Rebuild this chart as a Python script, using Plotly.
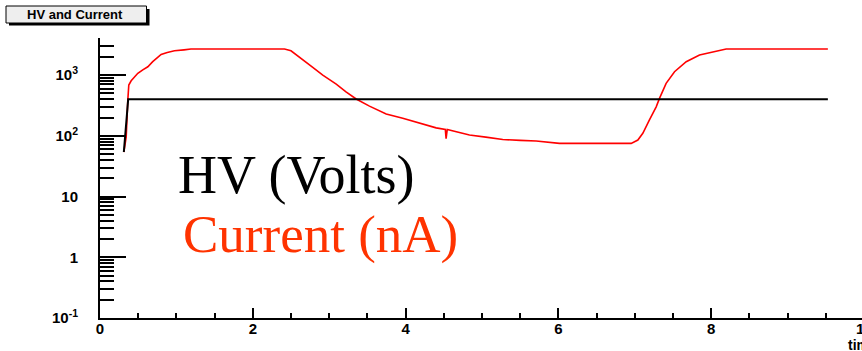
import plotly.graph_objects as go

# ---- data -------------------------------------------------------------
time_hv = [0.312, 0.330, 0.351, 0.369, 1.0, 3.0, 5.0, 7.0, 9.527]
hv_volts = [54, 96, 219, 400, 400, 400, 400, 400, 400]

time_cur = [0.312, 0.343, 0.364, 0.377, 0.408, 0.450, 0.495, 0.560, 0.626,
            0.690, 0.750, 0.800, 0.880, 0.975, 1.100, 1.190, 1.600, 2.000,
            2.415, 2.500, 2.654, 2.785, 2.916, 3.092, 3.220, 3.353, 3.527,
            3.746, 3.963, 4.182, 4.400, 4.520, 4.530, 4.545, 4.836, 5.050,
            5.272, 5.500, 5.709, 6.014, 6.500, 6.953, 7.040, 7.105, 7.190,
            7.280, 7.323, 7.410, 7.520, 7.673, 7.847, 8.065, 8.196, 8.700,
            9.527]
current_na = [54, 96, 387, 684, 805, 930, 1067, 1220, 1370,
              1660, 1950, 2190, 2360, 2510, 2600, 2680, 2680, 2680,
              2680, 2510, 1815, 1340, 1000, 711, 530, 403, 308,
              228, 194, 160, 135, 127, 90, 127, 103, 95,
              87, 84, 82, 75, 75, 75, 85, 110, 181,
              300, 413, 730, 1133, 1660, 2135, 2420, 2680, 2680,
              2680]

x_tick_vals = [0, 2, 4, 6, 8]
x_tick_text = ["0", "2", "4", "6", "8"]
y_tick_vals = [0.1, 1, 10, 100, 1000]
y_tick_text = ["10<sup>-1</sup>", "1", "10", "10<sup>2</sup>", "10<sup>3</sup>"]
y_minor_vals = [m * 10 ** e for e in range(-1, 4) for m in range(2, 10)]

title_text = "HV and Current"
hv_label = "HV (Volts)"
cur_label = "Current (nA)"
x_title = "time"

# ---- geometry ---------------------------------------------------------
W, H = 862, 351
ML, MR, MT, MB = 100, 0, 38, 33
PW, PH = W - ML - MR, H - MT - MB
PX_PER_UNIT = 76.4


def px(x):
    return (x - ML) / PW


def py(y):
    return (H - MB - y) / PH


SANS = "Liberation Sans, Arial, Helvetica, sans-serif"
SERIF = "Liberation Serif, Times New Roman, serif"

fig = go.Figure()
fig.add_trace(go.Scatter(x=time_cur, y=current_na, mode="lines",
                         line=dict(color="#ff0000", width=1.6),
                         showlegend=False, hoverinfo="skip"))
fig.add_trace(go.Scatter(x=time_hv, y=hv_volts, mode="lines",
                         line=dict(color="#000000", width=2),
                         showlegend=False, hoverinfo="skip"))

fig.update_layout(
    width=W, height=H,
    margin=dict(l=ML, r=MR, t=MT, b=MB, pad=0),
    paper_bgcolor="white", plot_bgcolor="white",
    xaxis=dict(
        range=[0, PW / PX_PER_UNIT], showgrid=False, zeroline=False,
        showline=True, linecolor="black", linewidth=2,
        ticks="inside", ticklen=10, tickwidth=1.5, tickcolor="black",
        tickmode="array", tickvals=x_tick_vals, ticktext=x_tick_text,
        tickfont=dict(family=SANS, size=15, color="black", weight="bold"),
        ticklabelstandoff=-4,
        minor=dict(ticks="inside", ticklen=5, tickwidth=1.5,
                   tickcolor="black", dtick=0.5, tick0=0, showgrid=False),
        automargin=False,
    ),
    yaxis=dict(
        type="log", range=[-1, 3.61], showgrid=False, zeroline=False,
        showline=True, linecolor="black", linewidth=2,
        ticks="inside", ticklen=26, tickwidth=1.5, tickcolor="black",
        tickmode="array", tickvals=y_tick_vals, ticktext=y_tick_text,
        tickfont=dict(family=SANS, size=15, color="black", weight="bold"),
        ticklabelstandoff=17,
        minor=dict(ticks="inside", ticklen=14, tickwidth=1.5,
                   tickcolor="black", tickmode="array",
                   tickvals=y_minor_vals, showgrid=False),
        automargin=False,
    ),
)

# title box with drop shadow
fig.add_shape(type="rect", xref="paper", yref="paper",
              x0=px(9), x1=px(149.5), y0=py(9), y1=py(25.5),
              fillcolor="black", line=dict(width=0), layer="above")
fig.add_shape(type="rect", xref="paper", yref="paper",
              x0=px(6), x1=px(146.5), y0=py(6), y1=py(23),
              fillcolor="#eeeeee", line=dict(color="black", width=1),
              layer="above")
fig.add_annotation(text=title_text, xref="paper", yref="paper",
                   x=px(75), y=py(14), xanchor="center", yanchor="middle",
                   showarrow=False, borderpad=0,
                   font=dict(family=SANS, size=13, color="black", weight="bold"))

# legend text
fig.add_annotation(text=hv_label, xref="paper", yref="paper",
                   x=px(177), y=py(174.5), xanchor="left", yanchor="middle",
                   showarrow=False, borderpad=0,
                   font=dict(family=SERIF, size=54, color="black"))
fig.add_annotation(text=cur_label, xref="paper", yref="paper",
                   x=px(182), y=py(234), xanchor="left", yanchor="middle",
                   showarrow=False, borderpad=0,
                   font=dict(family=SERIF, size=53, color="#ff3300"))

# last x tick label and axis title, running past the right edge
fig.add_annotation(text="10", xref="paper", yref="paper",
                   x=px(ML + 10 * PX_PER_UNIT), y=py(328), xanchor="center",
                   yanchor="middle", showarrow=False, borderpad=0,
                   font=dict(family=SANS, size=15, color="black", weight="bold"))
fig.add_annotation(text=x_title, xref="paper", yref="paper",
                   x=px(847), y=py(345), xanchor="left", yanchor="middle",
                   showarrow=False, borderpad=0,
                   font=dict(family=SANS, size=14, color="black", weight="bold"))

fig.write_html("out.html")
